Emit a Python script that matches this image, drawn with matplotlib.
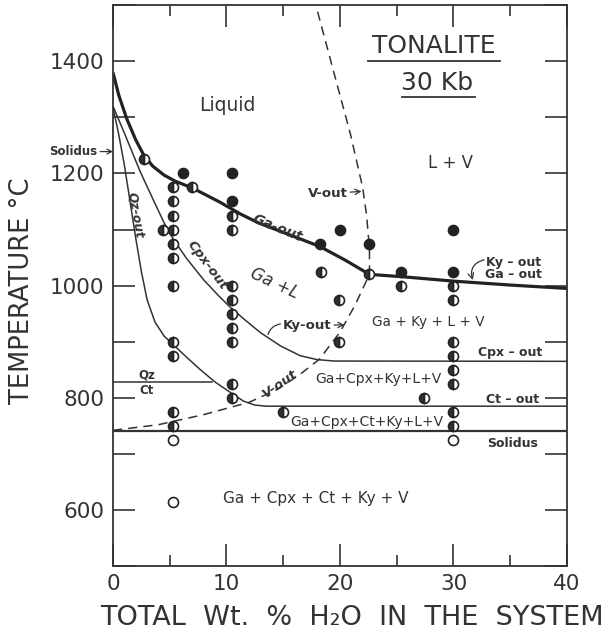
import matplotlib
matplotlib.use("Agg")
import matplotlib.pyplot as plt
from matplotlib.ticker import MultipleLocator, FuncFormatter

plt.rcParams['font.family'] = ['DejaVu Sans']

# phase boundaries (wt% H2O, temperature °C)
ga_out_x = [0, 0.5, 1.2, 2.0, 2.7, 3.5, 4.5, 5.5, 7.0, 9.4, 11.2, 12.8, 15.5, 18.2, 20.5, 22.6, 25.4, 30, 35, 40]
ga_out_y = [1380, 1340, 1298, 1260, 1233, 1213, 1197, 1186, 1174, 1149, 1128, 1112, 1091, 1070, 1045, 1020, 1016, 1008, 1001, 995]

cpx_out_x = [0, 1, 2.4, 3.5, 4.5, 5.3, 6.5, 8, 9.3, 10.3, 11.5, 13, 14.8, 16.5, 18, 19.5, 40]
cpx_out_y = [1320, 1272, 1203, 1155, 1112, 1083, 1048, 1010, 982, 962, 941, 916, 892, 875, 868, 865.5, 865]

qz_out_x = [0, 0.5, 1, 1.5, 2, 2.5, 3, 3.7, 4.5, 5.4, 6.5, 7.7, 9, 10.6, 11.5, 12.5, 13.5, 40]
qz_out_y = [1318, 1270, 1215, 1150, 1085, 1025, 975, 935, 910, 893, 872, 850, 828, 806, 794, 787, 785, 785]

v_out_x = [0, 4, 8, 12, 14.5, 16.5, 18.2, 20, 21.3, 22.6, 22.6, 22.35, 22, 20.9, 19.7, 18.1, 17.9]
v_out_y = [742, 752, 770, 792, 815, 842, 869, 917, 964, 1020, 1065, 1125, 1175, 1272, 1362, 1483, 1500]

qz_ct_x = [0, 8.7]
qz_ct_y = [828, 828]
solidus_x = [0, 40]
solidus_y = [740, 740]

# experiments
filled_x = [6.2, 10.5, 10.5, 18.2, 20.0, 22.6, 25.4, 30, 30]
filled_y = [1200, 1200, 1150, 1075, 1100, 1075, 1025, 1100, 1025]

half_x = [2.7, 4.4, 7.0,
          5.3, 5.3, 5.3, 5.3, 5.3, 5.3, 5.3, 5.3, 5.3, 5.3, 5.3,
          10.5, 10.5, 10.5, 10.5, 10.5, 10.5, 10.5, 10.5, 10.5,
          15.0, 18.3, 19.9, 19.9, 22.6, 25.4, 27.4,
          30, 30, 30, 30, 30, 30, 30, 30]
half_y = [1225, 1100, 1175,
          1175, 1150, 1125, 1100, 1075, 1050, 1000, 900, 875, 775, 750,
          1125, 1100, 1000, 975, 950, 925, 900, 825, 800,
          775, 1025, 975, 900, 1020, 1000, 800,
          1000, 975, 900, 875, 850, 825, 775, 750]

open_x = [5.3, 5.3, 30]
open_y = [725, 615, 725]

fig = plt.figure(figsize=(6.06, 6.33), dpi=100)
ax = fig.add_axes([0.1865, 0.1058, 0.749, 0.886])
ax.set_xlim(0, 40)
ax.set_ylim(500, 1500)

ax.plot(ga_out_x, ga_out_y, color='#222222', lw=2.3, solid_capstyle='butt')
ax.plot(cpx_out_x, cpx_out_y, color='#333333', lw=1.1)
ax.plot(qz_out_x, qz_out_y, color='#333333', lw=1.1)
ax.plot(v_out_x, v_out_y, color='#333333', lw=1.1, ls=(0, (6, 4)))
ax.plot(qz_ct_x, qz_ct_y, color='#333333', lw=1.1)
ax.plot(solidus_x, solidus_y, color='#333333', lw=1.6)

mk = dict(ls='none', marker='o', ms=7.2, mec='#222222', mew=1.2)
ax.plot(filled_x, filled_y, mfc='#222222', **mk)
ax.plot(half_x, half_y, mfc='#333333', fillstyle='left', markerfacecoloralt='white', **mk)
ax.plot(open_x, open_y, mfc='white', **mk)

# ticks
ax.xaxis.set_major_locator(MultipleLocator(10))
ax.xaxis.set_minor_locator(MultipleLocator(5))
ax.yaxis.set_major_locator(MultipleLocator(100))
ax.yaxis.set_major_formatter(FuncFormatter(lambda v, p: f"{v:.0f}" if v % 200 == 0 and 600 <= v <= 1400 else ""))
ax.tick_params(which='both', direction='in', top=True, right=True, width=1.2, color='#333333',
               labelsize=15.5, labelcolor='#333333')
ax.tick_params(which='major', length=16, pad=6)
ax.tick_params(which='minor', length=8)
for s in ax.spines.values():
    s.set_linewidth(1.3)
    s.set_color('#333333')

fig.text(0.165, 0.024, "TOTAL  Wt.  %  H₂O  IN  THE  SYSTEM", ha='left', va='center',
         fontsize=19.5, color='#333333')
fig.text(0.037, 0.54, "TEMPERATURE °C", rotation=90, ha='center', va='center',
         fontsize=18.5, color='#333333')

tc = '#333333'
ax.text(10.1, 1321, "Liquid", ha='center', va='center', fontsize=13.5, color=tc)
ax.text(28.3, 1427, "TONALITE", ha='center', va='center', fontsize=18, color=tc)
ax.plot([22.5, 34.1], [1400, 1400], color=tc, lw=1.3)
ax.text(28.6, 1362, "30 Kb", ha='center', va='center', fontsize=18, color=tc)
ax.plot([25.5, 31.9], [1337, 1337], color=tc, lw=1.3)
ax.text(29.7, 1219, "L + V", ha='center', va='center', fontsize=12, color=tc)

ax.text(14.5, 1103, "Ga-out", ha='center', va='center', fontsize=10, rotation=-22,
        color=tc, fontweight='bold', style='italic')
ax.text(14.2, 1004, "Ga +L", ha='center', va='center', fontsize=12, rotation=-25,
        color=tc, style='italic')
ax.text(2.0, 1126, "Qz-out", ha='center', va='center', fontsize=9, rotation=-80,
        color=tc, fontweight='bold', style='italic')
ax.text(8.3, 1037, "Cpx-out", ha='center', va='center', fontsize=9.5, rotation=-53,
        color=tc, fontweight='bold', style='italic')
ax.text(14.7, 825, "V-out", ha='center', va='center', fontsize=9.5, rotation=35,
        color=tc, fontweight='bold', style='italic')
ax.text(3.0, 840, "Qz", ha='center', va='center', fontsize=8.5, color=tc, fontweight='bold')
ax.text(3.0, 813, "Ct", ha='center', va='center', fontsize=8.5, color=tc, fontweight='bold')

ax.text(27.8, 935, "Ga + Ky + L + V", ha='center', va='center', fontsize=9.8, color=tc)
ax.text(23.4, 833, "Ga+Cpx+Ky+L+V", ha='center', va='center', fontsize=10, color=tc)
ax.text(22.4, 757, "Ga+Cpx+Ct+Ky+L+V", ha='center', va='center', fontsize=10, color=tc)
ax.text(17.9, 621, "Ga + Cpx + Ct + Ky + V", ha='center', va='center', fontsize=11, color=tc)

lab = dict(ha='center', va='center', fontsize=9, color=tc, fontweight='bold')
ax.text(35.0, 881, "Cpx – out", **lab)
ax.text(35.2, 797, "Ct – out", **lab)
ax.text(35.2, 718, "Solidus", **lab)
ax.text(35.3, 1042, "Ky – out", **lab)
ax.text(35.3, 1019, "Ga – out", **lab)

arr = dict(arrowstyle='->', color=tc, lw=0.9, shrinkA=0, shrinkB=0)
ax.annotate("", xy=(31.7, 1010), xytext=(32.7, 1046), arrowprops=dict(arr, connectionstyle='arc3,rad=0.5'))
ax.annotate("V-out", xy=(21.9, 1168), xytext=(18.9, 1164), ha='center', va='center',
            fontsize=9.5, color=tc, fontweight='bold', arrowprops=arr)
ax.annotate("Ky-out", xy=(20.4, 930), xytext=(17.1, 929), ha='center', va='center',
            fontsize=9.5, color=tc, fontweight='bold', arrowprops=arr)
ax.annotate("", xy=(13.6, 908), xytext=(15.0, 932),
            arrowprops=dict(arrowstyle='-', color=tc, lw=0.9, connectionstyle='arc3,rad=0.4'))
ax.annotate("Solidus", xy=(0, 1239), xytext=(-3.5, 1239), ha='center', va='center',
            fontsize=8.5, color=tc, fontweight='bold', annotation_clip=False, arrowprops=arr)

fig.savefig("out.png", dpi=100)
